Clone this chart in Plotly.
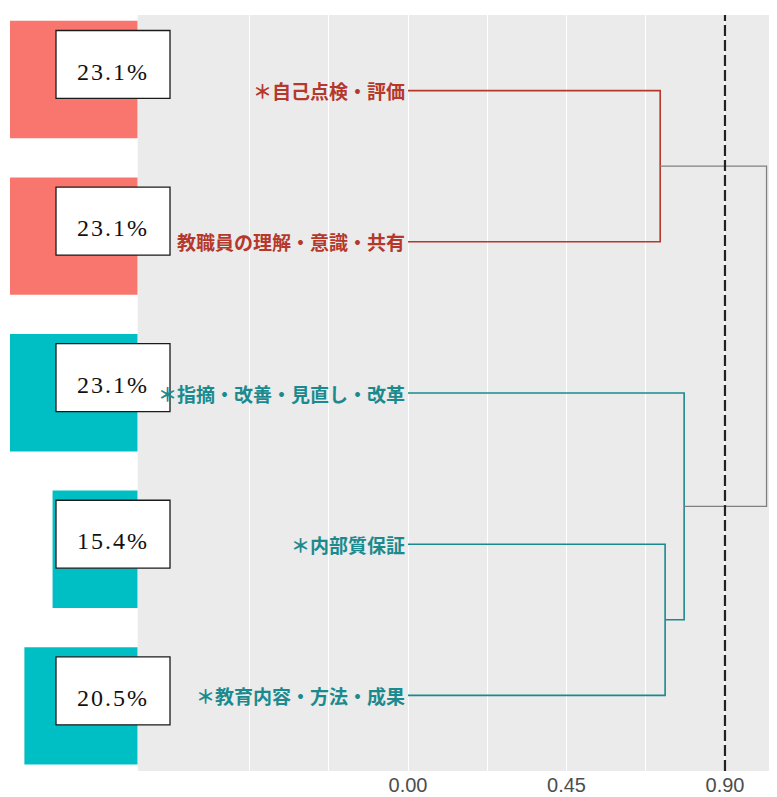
import plotly.graph_objects as go

# ---------------- data ----------------
labels = ["＊自己点検・評価", "教職員の理解・意識・共有", "＊指摘・改善・見直し・改革",
          "＊内部質保証", "＊教育内容・方法・成果"]
pct = [23.1, 23.1, 23.1, 15.4, 20.5]
pct_text = ["23.1%", "23.1%", "23.1%", "15.4%", "20.5%"]
cluster = [0, 0, 1, 1, 1]
# linkage: (node a, node b, height); leaves 0..4, merged nodes 5..8
merge_a = [0, 3, 2, 5]
merge_b = [1, 4, 6, 7]
merge_h = [0.716, 0.730, 0.784, 1.018]
merge_cluster = [0, 1, 1, -1]
cut_height = 0.90
x_ticks = [0.00, 0.45, 0.90]
x_minor = [-0.45, -0.225, 0.225, 0.675]

# ---------------- styles ----------------
bar_colors = ["#F8766D", "#00BFC4"]
line_colors = {0: "#B8372B", 1: "#1A8A8E", -1: "#808080"}
label_colors = ["#B5382C", "#1B8A8E"]
OFF = 8  # page body margin
W, H = 777 - OFF, 797 - OFF
plot_left = (137.7 - OFF) / W

fig = go.Figure()

# bars (left panel)
for c in sorted(set(cluster)):
    idx = [i for i in range(len(pct)) if cluster[i] == c]
    fig.add_trace(go.Bar(
        x=[pct[i] for i in idx], y=[i + 1 for i in idx], orientation="h",
        width=0.75, marker=dict(color=bar_colors[c], line=dict(width=0)),
        xaxis="x2", yaxis="y2", showlegend=False, hoverinfo="skip"))

# dendrogram
node_pos = {i: (0.0, i + 1) for i in range(len(labels))}
for k, (a, b, h) in enumerate(zip(merge_a, merge_b, merge_h)):
    xa, ya = node_pos[a]
    xb, yb = node_pos[b]
    col = line_colors[merge_cluster[k]]
    fig.add_trace(go.Scatter(
        x=[xa, h, h, xb], y=[ya, ya, yb, yb], mode="lines",
        line=dict(color=col, width=1.6 if merge_cluster[k] >= 0 else 1.3),
        xaxis="x", yaxis="y", showlegend=False, hoverinfo="skip"))
    node_pos[len(labels) + k] = (h, (ya + yb) / 2)

# background panel
shapes = [dict(type="rect", xref="x domain", yref="y domain", x0=0, x1=1, y0=0, y1=1,
               fillcolor="#EBEBEB", line=dict(width=0), layer="below")]
# cut line
shapes.append(dict(type="line", xref="x", yref="y domain", x0=cut_height, x1=cut_height,
                   y0=0, y1=1, line=dict(color="#222222", width=2.2, dash="11px,4px"),
                   layer="above"))

annotations = []
# label boxes
for i, t in enumerate(pct_text):
    yc = i + 1 - 0.096
    shapes.append(dict(type="rect", xref="paper", yref="y2",
                       x0=(56 - OFF) / W, x1=(170 - OFF) / W, y0=yc - 0.217, y1=yc + 0.217,
                       fillcolor="white", line=dict(color="#1A1A1A", width=1.3),
                       layer="above"))
    annotations.append(dict(text='<span style="letter-spacing:2px">' + t + '</span>',
                            xref="paper", yref="y2", x=(113 - OFF) / W, y=i + 1,
                            yshift=8, showarrow=False, xanchor="center", yanchor="middle",
                            font=dict(family="Liberation Serif", size=24, color="#111111")))

# leaf labels
for i, lab in enumerate(labels):
    annotations.append(dict(text="<b>" + lab + "</b>", xref="x", yref="y", x=0, y=i + 1,
                            xanchor="right", yanchor="middle", xshift=-1, showarrow=False,
                            font=dict(family="Noto Sans CJK JP", size=19,
                                      color=label_colors[cluster[i]])))

fig.update_layout(
    width=W, height=H,
    margin=dict(l=0, r=0, t=15 - OFF, b=26),
    paper_bgcolor="white", plot_bgcolor="white",
    shapes=shapes, annotations=annotations,
    bargap=0.25,
    xaxis=dict(domain=[plot_left, 1], range=[-0.7675, 1.0477], anchor="y",
               tickvals=x_ticks, ticktext=[f"{v:.2f}" for v in x_ticks],
               showgrid=True, gridcolor="white", gridwidth=1.1,
               zeroline=False, showline=False, ticks="",
               tickfont=dict(family="Liberation Sans", size=20, color="#4D4D4D"),
               minor=dict(tickvals=x_minor, showgrid=True, gridcolor="white",
                          gridwidth=0.6, ticks="")),
    yaxis=dict(domain=[0, 1], range=[5.5, 0.5], anchor="x",
               showgrid=False, zeroline=False, showticklabels=False, ticks=""),
    xaxis2=dict(domain=[0, plot_left], range=[(137.7 - OFF) / 5.528, 0], anchor="y2",
                showgrid=False, zeroline=False, showticklabels=False, ticks=""),
    yaxis2=dict(domain=[0, 1], range=[5.416, 0.588], anchor="x2",
                showgrid=False, zeroline=False, showticklabels=False, ticks=""),
)

fig.write_html("out.html")
